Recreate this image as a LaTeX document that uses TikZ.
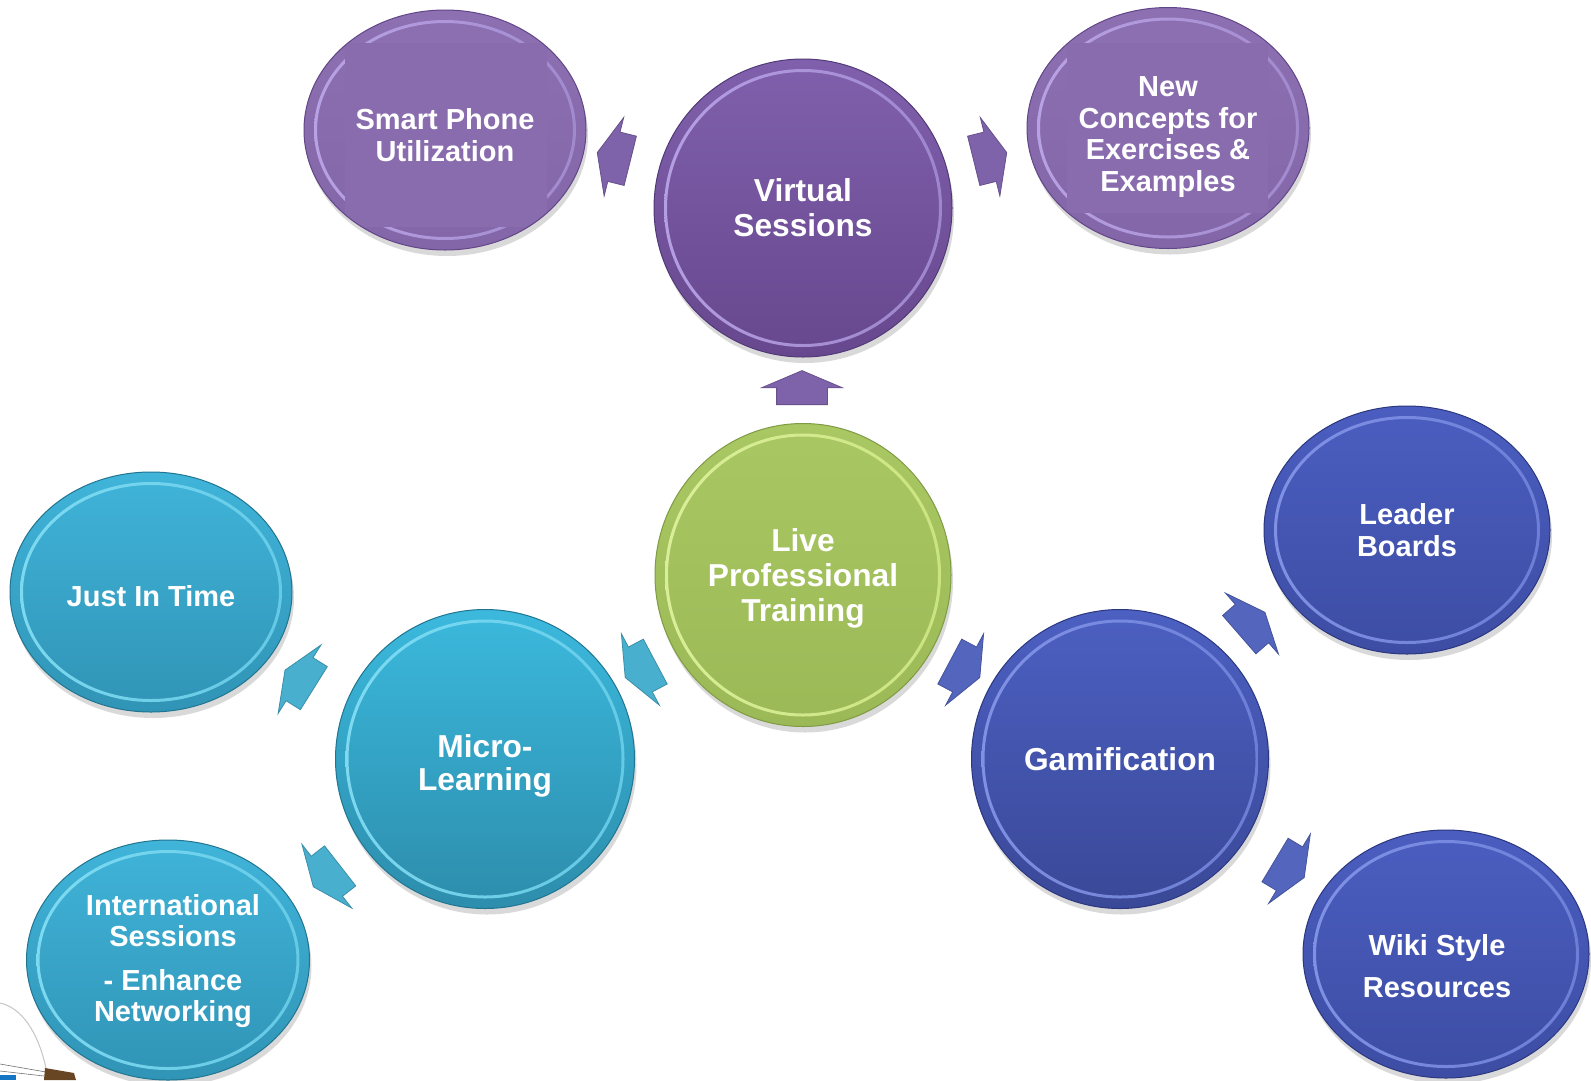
\documentclass[tikz,border=0pt]{standalone}
\usepackage{fontspec}
\setmainfont{Liberation Sans}
\usetikzlibrary{shapes.geometric,shapes.arrows,shadows,calc}

\definecolor{vtop}{HTML}{8060AC}\definecolor{vbot}{HTML}{67488E}\definecolor{vedge}{HTML}{523A78}
\definecolor{vrimL}{HTML}{C2ADF0}\definecolor{vrimM}{HTML}{8366AF}\definecolor{vrimR}{HTML}{A58ED4}
\definecolor{ptop}{HTML}{8D70B1}\definecolor{pbot}{HTML}{8366A7}\definecolor{pedge}{HTML}{624788}
\definecolor{patch}{HTML}{896CAD}
\definecolor{gtop}{HTML}{A9C762}\definecolor{gbot}{HTML}{9BB956}\definecolor{gedge}{HTML}{7F9B44}
\definecolor{grimL}{HTML}{E4F8A4}\definecolor{grimM}{HTML}{A9C762}\definecolor{grimR}{HTML}{D2EA88}
\definecolor{ctop}{HTML}{3BB9DD}\definecolor{cbot}{HTML}{2D8DAC}\definecolor{cedge}{HTML}{217590}
\definecolor{crimL}{HTML}{8CE4F8}\definecolor{crimM}{HTML}{3BAFD3}\definecolor{crimR}{HTML}{6CD0EC}
\definecolor{c2top}{HTML}{40B4D9}\definecolor{c2bot}{HTML}{3094B6}
\definecolor{btop}{HTML}{4C60C2}\definecolor{bbot}{HTML}{3A4897}\definecolor{bedge}{HTML}{2B377E}
\definecolor{brimL}{HTML}{8C9DEE}\definecolor{brimM}{HTML}{4A5CBC}\definecolor{brimR}{HTML}{7385DC}
\definecolor{b2top}{HTML}{4B5EC0}\definecolor{b2bot}{HTML}{3D4DA4}
\definecolor{arP}{HTML}{7E62AA}\definecolor{arC}{HTML}{48AFCE}\definecolor{arB}{HTML}{5465BE}

\tikzset{
  bub/.style={ellipse, inner sep=0pt, line width=1pt,
    drop shadow={shadow xshift=2pt, shadow yshift=-6pt, opacity=.15, fill=black}},
  txt/.style={align=center, text=white, inner sep=0pt,
    font=\bfseries\fontsize{29}{31.5}\selectfont},
  big/.style={font=\bfseries\fontsize{31.7}{35}\selectfont},
  rim/.style n args={4}{path picture={
    \shade[left color=#1, middle color=#2, right color=#3, even odd rule, opacity=.85]
      let \p1=(path picture bounding box.north east),
          \p2=(path picture bounding box.center)
      in (\p2) ellipse [x radius=\x1-\x2-10pt, y radius=\y1-\y2-10pt]
         (\p2) ellipse [x radius=\x1-\x2-13pt, y radius=\y1-\y2-13pt];
    #4
  }},
  blk/.style={single arrow, minimum height=34pt, inner xsep=0pt, inner ysep=25pt,
    single arrow head extend=15pt, single arrow tip angle=134,
    line width=.8pt, draw=#1!82!black, fill=#1},
}

\begin{document}
\begin{tikzpicture}[x=1pt,y=-1pt]
\useasboundingbox[fill=white] (0,0) rectangle (1591,1080);

% outer purple
\node[bub, minimum width=282pt, minimum height=240pt, top color=ptop, bottom color=pbot, draw=pedge,
  rim={vrimL}{vrimM}{vrimR}{\fill[patch] ([shift={(-100pt,-97pt)}]path picture bounding box.center) rectangle ([shift={(102pt,87pt)}]path picture bounding box.center);}]
  (smart) at (445,130) {};
\node[bub, minimum width=282pt, minimum height=241pt, top color=ptop, bottom color=pbot, draw=pedge,
  rim={vrimL}{vrimM}{vrimR}{\fill[patch] ([shift={(-101pt,-85pt)}]path picture bounding box.center) rectangle ([shift={(100pt,85pt)}]path picture bounding box.center);}]
  (newc) at (1168,128) {};

% centre purple
\node[bub, minimum width=298pt, minimum height=298pt, top color=vtop, bottom color=vbot, draw=vedge,
  rim={vrimL}{vrimM}{vrimR}{}] (virt) at (803,208) {};

% green
\node[bub, minimum width=296pt, minimum height=303pt, top color=gtop, bottom color=gbot, draw=gedge,
  rim={grimL}{grimM}{grimR}{}] (live) at (803,575) {};

% cyan
\node[bub, minimum width=299pt, minimum height=299pt, top color=ctop, bottom color=cbot, draw=cedge,
  rim={crimL}{crimM}{crimR}{}] (micro) at (485,759) {};
\node[bub, minimum width=282pt, minimum height=240pt, top color=c2top, bottom color=c2bot, draw=cedge,
  rim={crimL}{crimM}{crimR}{}] (jit) at (151,592) {};
\node[bub, minimum width=283pt, minimum height=240pt, top color=c2top, bottom color=c2bot, draw=cedge,
  rim={crimL}{crimM}{crimR}{}] (intl) at (168,960) {};

% blue
\node[bub, minimum width=297pt, minimum height=299pt, top color=btop, bottom color=bbot, draw=bedge,
  rim={brimL}{brimM}{brimR}{}] (gam) at (1120,759) {};
\node[bub, minimum width=286pt, minimum height=248pt, top color=b2top, bottom color=b2bot, draw=bedge,
  rim={brimL}{brimM}{brimR}{}] (leader) at (1407,530) {};
\node[bub, minimum width=286pt, minimum height=248pt, top color=b2top, bottom color=b2bot, draw=bedge,
  rim={brimL}{brimM}{brimR}{}] (wiki) at (1446,954) {};

% texts
\node[txt] (t-smart) at (445,135) {Smart Phone\\Utilization};
\node[txt] (t-newc) at (1168,137) {New\\Concepts for\\Exercises \&\\Examples};
\node[txt, big] (t-virt) at (803,208) {Virtual\\Sessions};
\node[txt, big] (t-live) at (803,578) {Live\\Professional\\Training};
\node[txt, big] (t-micro) at (485,766) {Micro-\\[-1.5pt]Learning};
\node[txt] (t-jit) at (151,596) {Just In Time};
\node[txt] (t-intl) at (173,961) {International\\Sessions\\[12pt]- Enhance\\Networking};
\node[txt, big] (t-gam) at (1120,759) {Gamification};
\node[txt] (t-leader) at (1407,530) {Leader\\Boards};
\node[txt] (t-wiki) at (1437,966) {Wiki Style\\[11pt]Resources};

% block arrows
\node[blk=arP, rotate=90]  (aup)  at (802,393) {};
\node[blk=arP, rotate=166] (asm)  at (619,158) {};
\node[blk=arP, rotate=14]  (anew) at (985,158) {};
\node[blk=arC, rotate=208] (ami)  at (645,667) {};
\node[blk=arB, rotate=332] (aga)  at (960,667) {};
\node[blk=arB, rotate=41]  (ale)  at (1248,627) {};
\node[blk=arB, rotate=329] (awi)  at (1285,866) {};
\node[blk=arC, rotate=218] (ain)  at (331,873) {};
\node[blk=arC, rotate=148] (aji)  at (304,682) {};

% fragment of a light bulb, bottom left
\draw[gray!45, line width=1pt] (0,1003) .. controls (22,1008) and (38,1032) .. (46,1068);
\draw[black!55, line width=.6pt] (0,1064) -- (46,1072);
\draw[black!55, line width=.6pt] (0,1071) -- (44,1076);
\fill[brown!55!black] (45,1068) -- (74,1073) -- (76,1080) -- (44,1080) -- cycle;
\fill[cyan!55!blue] (0,1075) rectangle (16,1080);
\end{tikzpicture}
\end{document}
